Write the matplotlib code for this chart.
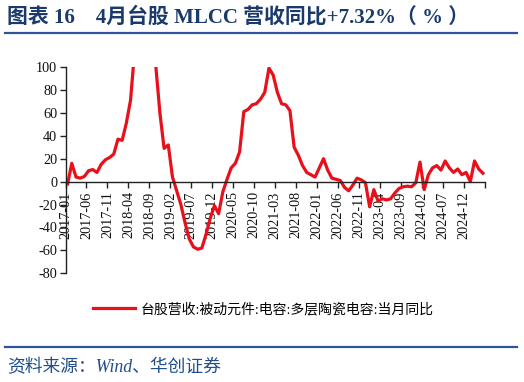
import numpy as np
import pandas as pd
import matplotlib
matplotlib.use("Agg")
import matplotlib.pyplot as plt
from matplotlib.lines import Line2D

plt.rcParams['font.family'] = ['Liberation Serif', 'Noto Sans CJK SC']
plt.rcParams['axes.unicode_minus'] = False

# monthly categories 2017-01 .. 2025-04
months = pd.date_range("2017-01", "2025-04", freq="MS").strftime("%Y-%m").tolist()

# 台股营收:被动元件:电容:多层陶瓷电容:当月同比 (%)
yoy = [-2, 16, 4, 3, 4.5, 9.5, 10.5, 8, 15, 19,
       21, 24, 37, 36, 51, 71, 115, 145, 160, 165,
       140, 102, 60, 29, 32, 4, -8, -20, -36, -50,
       -57, -59, -58, -46, -32, -21, -28, -9, 2, 12,
       16, 26, 61, 63, 67, 68, 72, 78, 99, 93,
       78, 68, 67, 62, 30, 23, 14, 8, 6, 4,
       12, 20, 10, 3, 2, 1, -5, -8, -3, 3,
       1.5, -1, -22, -7, -17, -15, -16, -15, -10, -6,
       -4.5, -4, -4.5, -1, 17, -7, 6, 12, 14, 10,
       18, 12, 8, 11, 6, 8, 0, 18, 11, 7.32]

legend_label = "台股营收:被动元件:电容:多层陶瓷电容:当月同比"
title = "图表 16    4月台股 MLCC 营收同比+7.32%（ % ）"
source = "资料来源：Wind、华创证券"

fig = plt.figure(figsize=(5.24, 3.82), dpi=100)
ax = fig.add_axes([0.125, 0.2846, 0.8006, 0.54])

x = np.arange(len(yoy)) + 0.5
ax.plot(x, yoy, color='#E8101A', lw=2.3, solid_joinstyle='round', label=legend_label)

ax.set_xlim(0, 100)
ax.set_ylim(-80, 100)
ax.set_yticks(np.arange(-80, 101, 20))
xt = np.arange(0, 101, 5)
ax.set_xticks(xt)
ax.set_xticklabels([months[i] if i < len(months) else "" for i in xt])

ax.spines['top'].set_visible(False)
ax.spines['right'].set_visible(False)
ax.spines['bottom'].set_position(('data', 0))
for s in ('left', 'bottom'):
    ax.spines[s].set_color('#222222')
    ax.spines[s].set_linewidth(1.0)
ax.tick_params(axis='both', direction='out', length=4, width=1, color='#222222',
               labelsize=10.3, labelcolor='#111111', pad=2)
ax.tick_params(axis='x', labelrotation=90, pad=3)
for lab in ax.get_xticklabels():
    lab.set_va('top')
    lab.set_ha('center')

leg = fig.legend(loc='center', bbox_to_anchor=(0.503, 0.191), frameon=False,
                 handlelength=3.0, fontsize=10, handletextpad=0.4)

fig.text(0.013, 1 - 17 / 382, title, fontsize=15, fontweight='bold',
         color='#1B3A6B', va='center', ha='left')
fig.add_artist(Line2D([0.01, 0.987], [1 - 33 / 382] * 2, transform=fig.transFigure,
                      color='#2E5597', lw=1.6))
fig.add_artist(Line2D([0.01, 0.987], [1 - 347 / 382] * 2, transform=fig.transFigure,
                      color='#2E5597', lw=1.6))
fig.text(0.013, 1 - 368 / 382, source, fontsize=12.8, style='italic',
         color='#1F4E8C', va='center', ha='left')

fig.savefig("out.png", dpi=100)
